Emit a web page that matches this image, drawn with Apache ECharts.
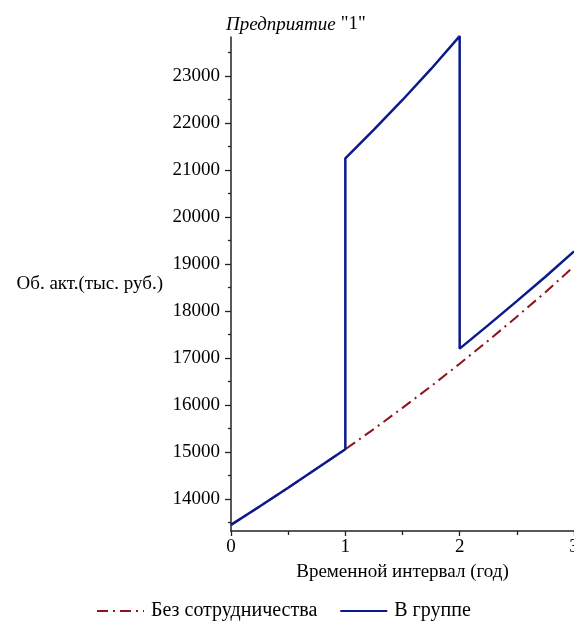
<!DOCTYPE html>
<html lang="ru">
<head>
  <meta charset="utf-8">
  <title>Предприятие "1"</title>
  <script src="https://cdn.jsdelivr.net/npm/echarts@6.0.0/dist/echarts.min.js"></script>
  <style>
    html, body { margin: 0; padding: 0; background: #fff; }
    #main { width: 574px; height: 622px; }
  </style>
</head>
<body>
  <div id="main"></div>
  <script>
    // годы (временной интервал)
    var years = [0, 0.25, 0.5, 0.75, 1, 1.25, 1.5, 1.75, 2, 2.25, 2.5, 2.75, 3];
    // Без сотрудничества
    var bezSotr = [13450, 13840, 14240, 14650, 15060, 15490, 15940, 16400, 16880, 17370, 17880, 18400, 18950];
    // В группе (скачки при t = 1 и t = 2)
    var gruppeX = [0, 0.25, 0.5, 0.75, 1, 1, 1.25, 1.5, 1.75, 2, 2, 2.25, 2.5, 2.75, 3];
    var gruppeY = [13450, 13840, 14240, 14650, 15060, 21250, 21860, 22490, 23150, 23850, 17200, 17700, 18210, 18730, 19270];
    // подписи оси Y
    var yLabels = [14000, 15000, 16000, 17000, 18000, 19000, 20000, 21000, 22000, 23000];
    var yMinor = [13500, 14500, 15500, 16500, 17500, 18500, 19500, 20500, 21500, 22500, 23500];

    var serif = '"Liberation Serif", "DejaVu Serif", serif';
    var myChart = echarts.init(document.getElementById('main'));

    var option = {
      animation: false,
      title: {
        text: '{i|Предприятие} {n|"1"}',
        left: 221,
        top: 10,
        textStyle: {
          rich: {
            i: { fontFamily: serif, fontStyle: 'italic', fontWeight: 'normal', fontSize: 19, color: '#000' },
            n: { fontFamily: serif, fontWeight: 'normal', fontSize: 19, color: '#000' }
          }
        }
      },
      legend: {
        left: 91,
        top: 596,
        itemWidth: 47,
        itemHeight: 14,
        itemGap: 22,
        itemStyle: { opacity: 0 },
        textStyle: { fontFamily: serif, fontSize: 20, color: '#000', padding: [0, 0, 0, 2] },
        data: ['Без сотрудничества', 'В группе']
      },
      grid: { left: 231, right: 0, top: 37, bottom: 91, outerBoundsMode: 'none' },
      xAxis: {
        type: 'value',
        min: 0,
        max: 3,
        interval: 1,
        name: 'Временной интервал (год)',
        nameLocation: 'middle',
        nameGap: 32,
        nameTextStyle: { fontFamily: serif, fontSize: 19, color: '#000' },
        axisLine: { lineStyle: { color: '#222', width: 1.5 } },
        axisTick: { show: true, length: 5, lineStyle: { color: '#222', width: 1.3 } },
        minorTick: { show: true, splitNumber: 2, length: 4, lineStyle: { color: '#222', width: 1.3 } },
        splitLine: { show: false },
        axisLabel: { fontFamily: serif, fontSize: 19, color: '#000', margin: 7 }
      },
      yAxis: [{
        type: 'value',
        min: 13320,
        max: 23830,
        name: 'Об. акт.(тыс. руб.)',
        nameLocation: 'middle',
        nameRotate: 0,
        nameGap: 68,
        nameTextStyle: { fontFamily: serif, fontSize: 19, color: '#000', align: 'right' },
        axisLine: { show: true, lineStyle: { color: '#222', width: 1.5 } },
        axisTick: { show: true, length: 6, customValues: yLabels, lineStyle: { color: '#222', width: 1.3 } },
        splitLine: { show: false },
        axisLabel: {
          fontFamily: serif, fontSize: 19, color: '#000', margin: 11, customValues: yLabels,
          formatter: function (v) { return String(v); }
        }
      }, {
        type: 'value',
        min: 13320,
        max: 23830,
        position: 'left',
        axisLine: { show: false },
        axisTick: { show: true, length: 3, customValues: yMinor, lineStyle: { color: '#222', width: 1.3 } },
        axisLabel: { show: false },
        splitLine: { show: false }
      }],
      series: [{
        name: 'Без сотрудничества',
        type: 'line',
        symbol: 'none',
        clip: false,
        color: '#8e1220',
        lineStyle: { color: '#8e1220', width: 2, type: [11, 5, 2, 5] },
        data: years.map(function (t, i) { return [t, bezSotr[i]]; })
      }, {
        name: 'В группе',
        type: 'line',
        symbol: 'none',
        clip: false,
        color: '#0a1a8c',
        lineStyle: { color: '#0a1a8c', width: 2.5 },
        data: gruppeX.map(function (t, i) { return [t, gruppeY[i]]; })
      }]
    };

    myChart.setOption(option);
  </script>
</body>
</html>
